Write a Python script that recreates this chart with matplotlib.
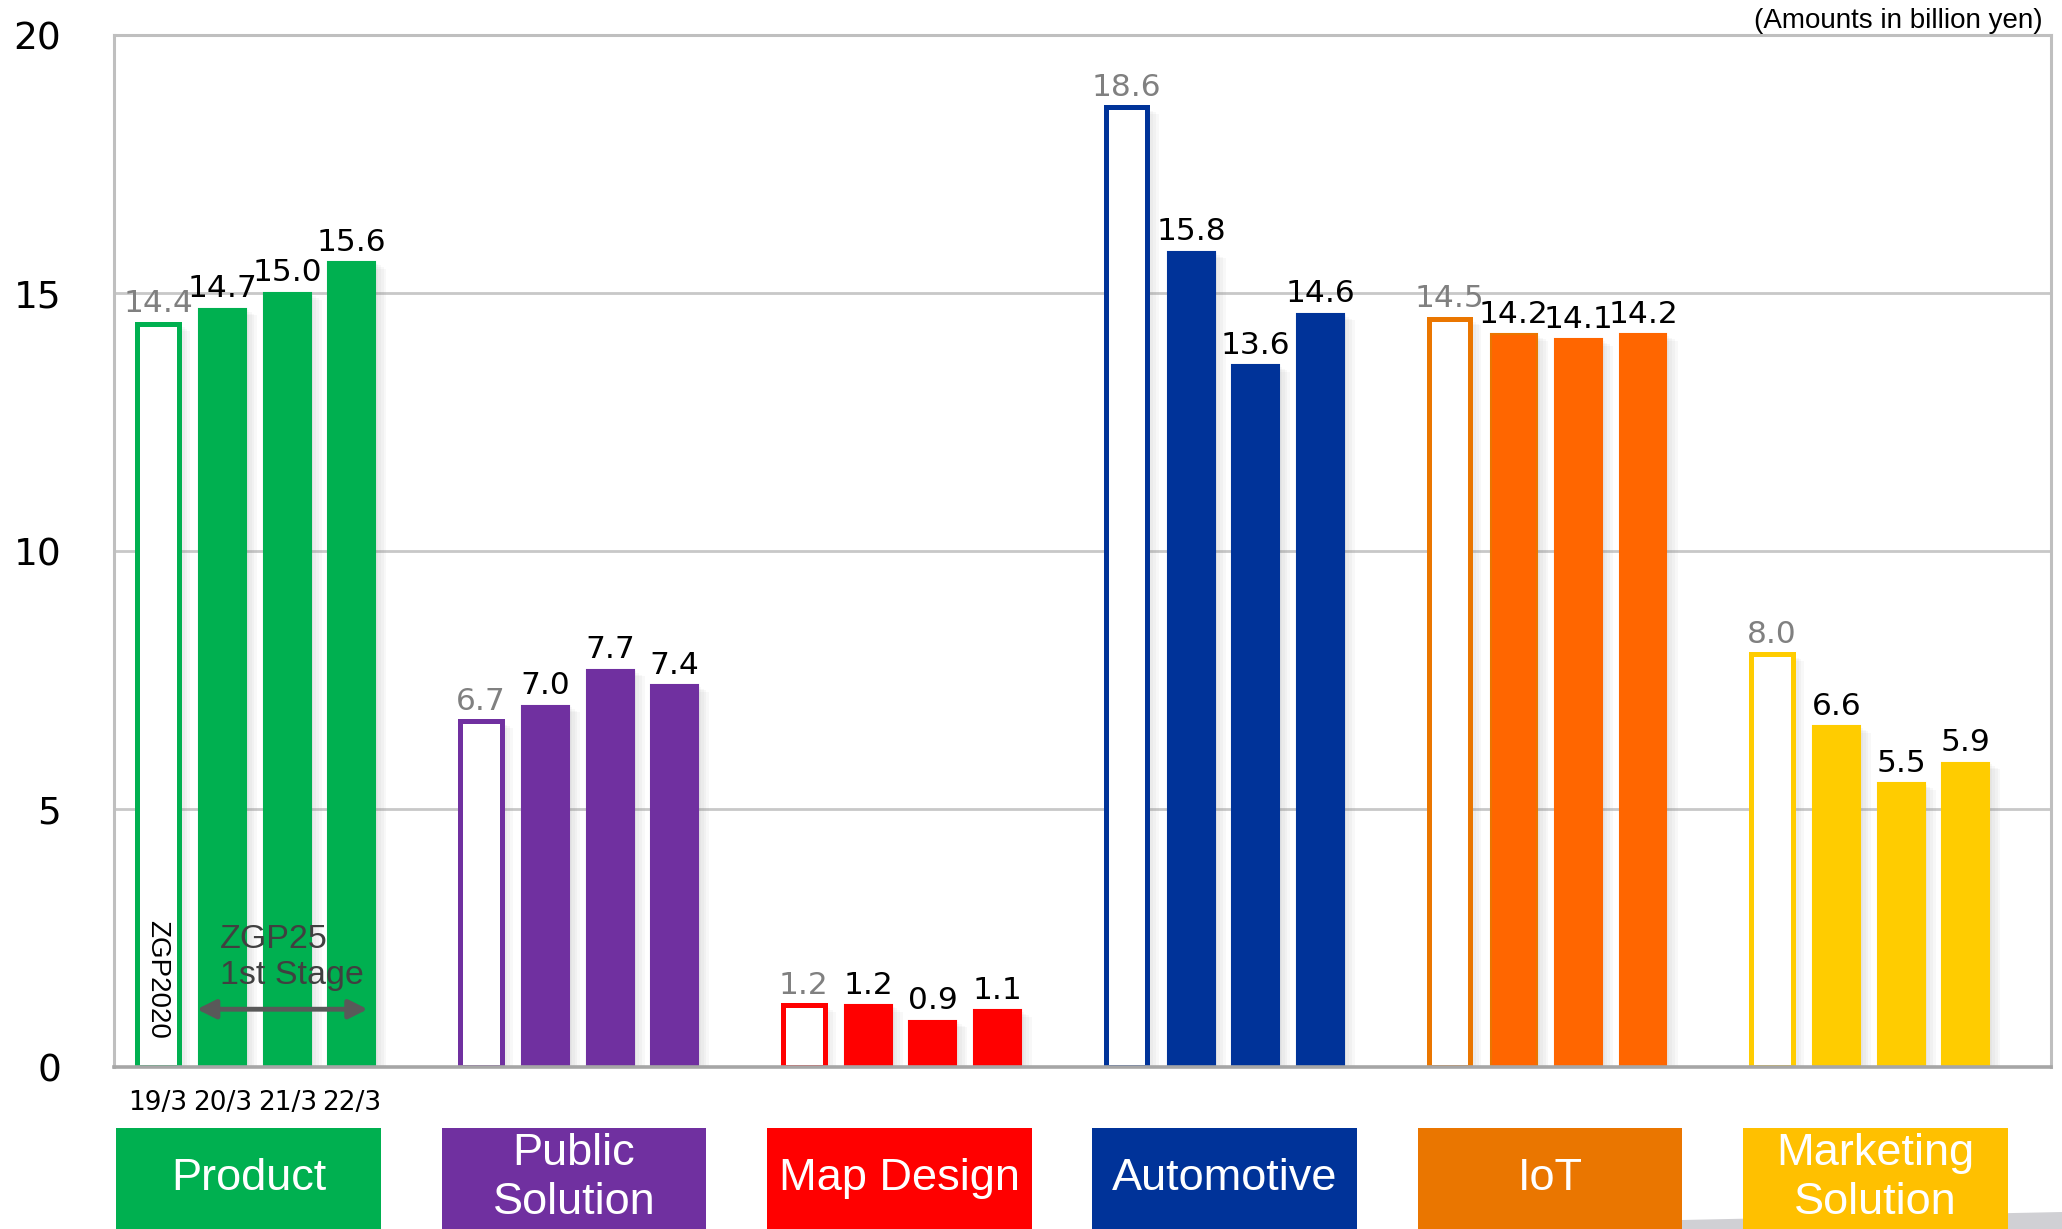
import numpy as np
import matplotlib
matplotlib.use('Agg')
import matplotlib.pyplot as plt
import matplotlib.patheffects as pe
from matplotlib.patches import Rectangle, Polygon
import matplotlib.transforms as mtransforms

# data (billion yen), one list per segment: 19/3, 20/3, 21/3, 22/3
segments = ['Product', 'Public\nSolution', 'Map Design', 'Automotive', 'IoT', 'Marketing\nSolution']
periods = ['19/3', '20/3', '21/3', '22/3']
product = [14.4, 14.7, 15.0, 15.6]
public_solution = [6.7, 7.0, 7.7, 7.4]
map_design = [1.2, 1.2, 0.9, 1.1]
automotive = [18.6, 15.8, 13.6, 14.6]
iot = [14.5, 14.2, 14.1, 14.2]
marketing = [8.0, 6.6, 5.5, 5.9]
values = [product, public_solution, map_design, automotive, iot, marketing]

bar_colors = ['#00B050', '#7030A0', '#FF0000', '#003399', '#FF6600', '#FFCC00']
edge_colors = ['#00B050', '#7030A0', '#FF0000', '#003399', '#EA7600', '#FFCC00']
box_colors = ['#00B050', '#7030A0', '#FF0000', '#003399', '#EA7600', '#FFC000']

fig = plt.figure(figsize=(20.62, 12.29), dpi=100)
ax = fig.add_axes([0.0553, 0.1318, 0.9394, 0.8397])

offsets = [-0.3, -0.1, 0.1, 0.3]
w = 0.145

# soft shadow for the bars
shadow = [pe.SimplePatchShadow(offset=(k, -k * 0.6), shadow_rgbFace='#808080', alpha=0.05)
          for k in (2, 4, 6, 8)] + [pe.Normal()]

for i, vals in enumerate(values):
    for j, v in enumerate(vals):
        x = i + offsets[j]
        if j == 0:
            b = ax.bar(x, v, width=w - 0.016, color='white', edgecolor=edge_colors[i],
                       linewidth=3.6, zorder=2)
            lc = '#808080'
        else:
            ec = edge_colors[i] if (i == 4 and j == 1) else bar_colors[i]
            b = ax.bar(x, v, width=w, color=bar_colors[i], edgecolor=ec,
                       linewidth=1.5, zorder=2)
            lc = 'black'
        b[0].set_path_effects(shadow)
        ax.annotate(f'{v:.1f}', (x, v), xytext=(0, 4), textcoords='offset points',
                    ha='center', va='bottom', fontsize=22.5, color=lc, zorder=4)

ax.set_xlim(-0.4368, 5.564)
ax.set_ylim(0, 20)
ax.set_yticks([0, 5, 10, 15, 20])
ax.set_xticks([])
ax.tick_params(axis='y', length=0, pad=38, labelsize=27)
ax.grid(axis='y', color='#C8C8C8', linewidth=2)
ax.set_axisbelow(True)
for s in ['left', 'top', 'right']:
    ax.spines[s].set_color('#BFBFBF')
    ax.spines[s].set_linewidth(2.2)
ax.spines['bottom'].set_color('#A6A6A6')
ax.spines['bottom'].set_linewidth(2.6)
ax.spines['bottom'].set_zorder(3)

trans = mtransforms.blended_transform_factory(ax.transData, ax.transAxes)

# period labels under the first group
for j, p in enumerate(periods):
    ax.text(offsets[j], -0.035, p, transform=trans, ha='center', va='center',
            fontsize=19, clip_on=False)

# segment boxes
for i, name in enumerate(segments):
    cx = i + (i - 2.5) * 0.008
    ax.add_patch(Rectangle((cx - 0.41, -0.25), 0.82, 0.25 - 0.0591, transform=trans,
                           facecolor=box_colors[i], edgecolor='none', clip_on=False, zorder=5))
    ax.text(cx, -0.108, name, transform=trans, ha='center', va='center', color='white',
            fontsize=32.5, family=['Liberation Sans', 'DejaVu Sans'], linespacing=1.25,
            clip_on=False, zorder=6)

# annotations in the first group
ax.text(-0.302, 1.69, 'ZGP2020', rotation=-90, ha='center', va='center', fontsize=20,
        family=['Liberation Sans', 'DejaVu Sans'], zorder=4)
ax.text(-0.108, 2.12, 'ZGP25\n1st Stage', ha='left', va='center', fontsize=24.5,
        color='#404040', family=['Liberation Sans', 'DejaVu Sans'], linespacing=1.2, zorder=4)
ax.annotate('', xy=(0.349, 1.12), xytext=(-0.18, 1.12),
            arrowprops=dict(arrowstyle='<|-|>', color='#595959', lw=3.5, mutation_scale=28,
                            shrinkA=0, shrinkB=0), zorder=4)

fig.text(0.9908, 0.9832, '(Amounts in billion yen)', ha='right', va='center', fontsize=20,
         family=['Liberation Sans', 'DejaVu Sans'])

# grey slide decoration bottom right
fig.patches.append(Polygon([(1682 / 2062, 0), (1682 / 2062, 1 - 1220 / 1229),
                            (1.0, 1 - 1212 / 1229), (1.0, 0)], closed=True,
                           transform=fig.transFigure, facecolor='#D0D0D4',
                           edgecolor='none', zorder=-1))

fig.savefig('out.png', dpi=100)
